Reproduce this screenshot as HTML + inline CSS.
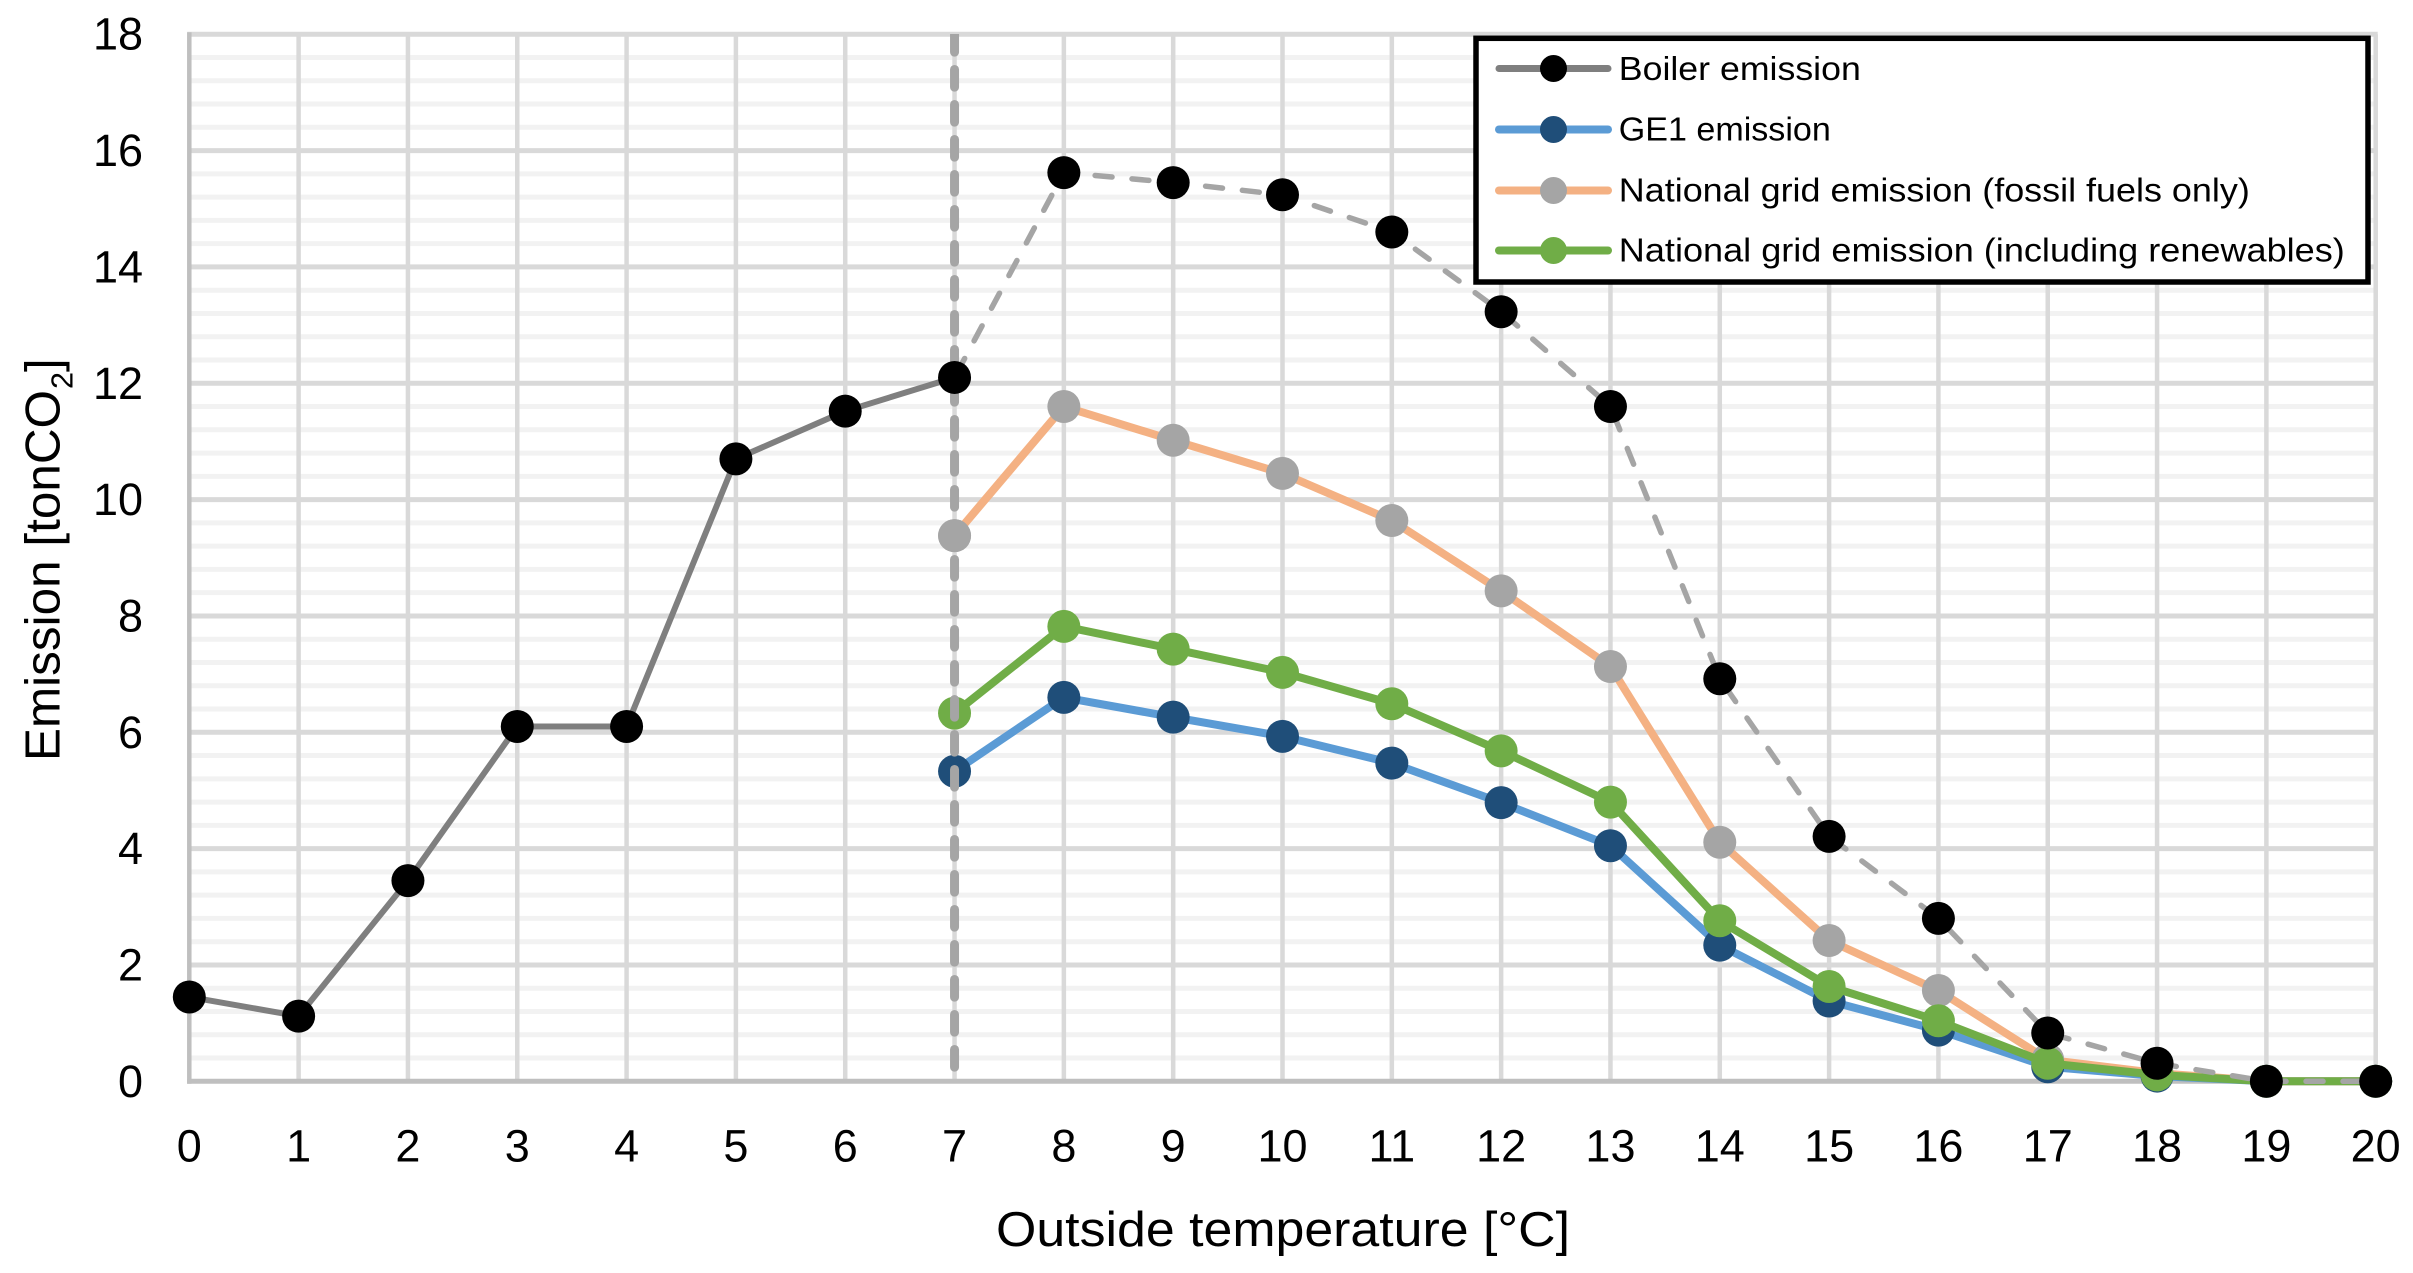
<!DOCTYPE html>
<html lang="en">
<head>
<meta charset="utf-8">
<title>Emission vs outside temperature</title>
<style>
html,body{margin:0;padding:0;background:#fff;}
svg{display:block;font-family:"Liberation Sans",sans-serif;}
</style>
</head>
<body>
<svg id="chart" width="2413" height="1273" viewBox="0 0 2413 1273" xmlns="http://www.w3.org/2000/svg">
  <defs><clipPath id="plot-clip"><rect x="150" y="34" width="2263" height="1100"/></clipPath></defs>
  <rect x="0" y="0" width="2413" height="1273" fill="#ffffff"/>
  <g id="grid"></g>
  <g id="ticks"></g>
  <g id="marks-free"></g>

  <text x="996" y="1246" font-size="49" textLength="574" lengthAdjust="spacingAndGlyphs">Outside temperature [°C]</text>
  <g transform="translate(59.3,761) rotate(-90)">
    <text x="0" y="0" font-size="49" textLength="371" lengthAdjust="spacingAndGlyphs">Emission [tonCO</text>
    <text x="372" y="13.4" font-size="31" textLength="17" lengthAdjust="spacingAndGlyphs">2</text>
    <text x="389" y="0" font-size="49">]</text>
  </g>

  <g id="legend">
    <rect x="1476" y="38.3" width="892" height="243.7" fill="#ffffff" stroke="#000000" stroke-width="5.5"/>
    <g>
      <line x1="1499" y1="68.5" x2="1608" y2="68.5" stroke="#7f7f7f" stroke-width="7" stroke-linecap="round"/>
      <circle cx="1553.5" cy="68.5" r="13.5" fill="#000000"/>
      <text x="1618.8" y="80" font-size="33" textLength="242" lengthAdjust="spacingAndGlyphs">Boiler emission</text>
    </g>
    <g>
      <line x1="1499" y1="129.5" x2="1608" y2="129.5" stroke="#5b9bd5" stroke-width="8" stroke-linecap="round"/>
      <circle cx="1553.5" cy="129.5" r="13.5" fill="#1f4e79"/>
      <text x="1618.8" y="140.7" font-size="33" textLength="212" lengthAdjust="spacingAndGlyphs">GE1 emission</text>
    </g>
    <g>
      <line x1="1499" y1="190.5" x2="1608" y2="190.5" stroke="#f4b183" stroke-width="8" stroke-linecap="round"/>
      <circle cx="1553.5" cy="190.5" r="13.5" fill="#a5a5a5"/>
      <text x="1618.8" y="201.7" font-size="33" textLength="631" lengthAdjust="spacingAndGlyphs">National grid emission (fossil fuels only)</text>
    </g>
    <g>
      <line x1="1499" y1="250.5" x2="1608" y2="250.5" stroke="#70ad47" stroke-width="8" stroke-linecap="round"/>
      <circle cx="1553.5" cy="250.5" r="13.5" fill="#70ad47"/>
      <text x="1618.8" y="261.7" font-size="33" textLength="726" lengthAdjust="spacingAndGlyphs">National grid emission (including renewables)</text>
    </g>
  </g>
</svg>
<script>
var categories = [0,1,2,3,4,5,6,7,8,9,10,11,12,13,14,15,16,17,18,19,20];
var yTickLabels = [0,2,4,6,8,10,12,14,16,18];
var boilerEmission = [1.45,1.12,3.45,6.1,6.1,10.7,11.52,12.1,15.62,15.45,15.24,14.6,13.23,11.6,6.92,4.21,2.8,0.83,0.31,0,0];
var ge1Emission = [null,null,null,null,null,null,null,5.33,6.6,6.26,5.93,5.47,4.79,4.05,2.34,1.38,0.88,0.25,0.09,0,0];
var gridFossilEmission = [null,null,null,null,null,null,null,9.38,11.6,11.02,10.45,9.64,8.43,7.13,4.11,2.42,1.56,0.37,0.14,0,0];
var gridRenewablesEmission = [null,null,null,null,null,null,null,6.33,7.82,7.43,7.03,6.49,5.68,4.8,2.76,1.63,1.04,0.31,0.11,0,0];
var cutoffTemperature = 7;
var yMax = 18;
var yMinorStep = 0.4;

var SVG_NS = 'http://www.w3.org/2000/svg';
function xScale(t){ return 189.3 + t * 109.32; }
function yScale(v){ return 1081.3 - v * 58.17; }
function make(tag, attrs, parent){
  var node = document.createElementNS(SVG_NS, tag);
  for (var k in attrs) node.setAttribute(k, attrs[k]);
  parent.appendChild(node);
  return node;
}
var gridG = document.getElementById('grid');
var ticksG = document.getElementById('ticks');
var freeG = document.getElementById('marks-free');
var plotLeft = xScale(categories[0]);
var plotRight = xScale(categories[categories.length - 1]);

// minor horizontal gridlines
var minorCount = Math.round(yMax / yMinorStep);
for (var m = 0; m <= minorCount; m++) {
  var mv = m * yMinorStep;
  if (m % 5 === 0) continue;
  var minor = make('line', {x1: plotLeft, x2: plotRight - 2, y1: yScale(mv), y2: yScale(mv), stroke: '#f2f2f2', 'stroke-width': 5}, gridG);
  
  
}
// major horizontal gridlines
yTickLabels.forEach(function(v){
  if (v === 0) return;
  var major = make('line', {x1: plotLeft - 2, x2: plotRight + 2, y1: yScale(v), y2: yScale(v), stroke: '#d9d9d9', 'stroke-width': 5}, gridG);
  
  
});
// vertical gridlines
categories.forEach(function(c){
  if (c === 0) return;
  var vertical = make('line', {x1: xScale(c), x2: xScale(c), y1: yScale(yMax), y2: yScale(0), stroke: '#d9d9d9', 'stroke-width': 4.5}, gridG);
  
  
});
// axis lines
var yAxisLine = make('line', {x1: plotLeft, x2: plotLeft, y1: yScale(yMax) - 2, y2: yScale(0) + 2.5, stroke: '#bfbfbf', 'stroke-width': 4.5}, gridG);


var xAxisLine = make('line', {x1: plotLeft - 2, x2: plotRight, y1: yScale(0), y2: yScale(0), stroke: '#bfbfbf', 'stroke-width': 5}, gridG);



// tick labels
yTickLabels.forEach(function(v){
  var label = make('text', {x: 143, y: yScale(v) + 15.5, 'font-size': 45, 'text-anchor': 'end', fill: '#000'}, ticksG);
  label.textContent = String(v);
  
  
});
categories.forEach(function(c){
  var label = make('text', {x: xScale(c), y: 1161.7, 'font-size': 45, 'text-anchor': 'middle', fill: '#000'}, ticksG);
  label.textContent = String(c);
  
  
});

function pathFrom(values, from, to){
  var pts = [];
  for (var i = from; i <= to; i++) {
    if (values[i] === null) continue;
    pts.push(xScale(categories[i]) + ',' + yScale(values[i]));
  }
  return pts.join(' ');
}
function drawLine(parent, values, from, to, color, width, dash, offset){
  var attrs = {points: pathFrom(values, from, to), fill: 'none', stroke: color, 'stroke-width': width, 'stroke-linejoin': 'round', 'stroke-linecap': 'round'};
  if (dash) { attrs['stroke-dasharray'] = dash; attrs['stroke-dashoffset'] = offset; }
  return make('polyline', attrs, parent);
}
function drawPoint(parent, values, i, color){
  return make('circle', {cx: xScale(categories[i]), cy: yScale(values[i]), r: 16.5, fill: color}, parent);
}
function drawSeries(values, lineColor, markerColor, lineName, markerName){
  var line = drawLine(freeG, values, 0, values.length - 1, lineColor, 8);
  
  
  values.forEach(function(v, i){
    if (v === null) return;
    var dot = drawPoint(freeG, values, i, markerColor);
    
    
  });
}

drawSeries(ge1Emission, '#5b9bd5', '#1f4e79', 'ge1-line', 'ge1-point');
drawSeries(gridFossilEmission, '#f4b183', '#a5a5a5', 'grid-fossil-line', 'grid-fossil-point');
drawSeries(gridRenewablesEmission, '#70ad47', '#70ad47', 'grid-renewables-line', 'grid-renewables-point');

// vertical cut-off line (clipped at the plot top)
var cutoffIdx = categories.indexOf(cutoffTemperature);
var cutoff = make('line', {x1: xScale(cutoffTemperature), x2: xScale(cutoffTemperature), y1: yScale(yMax) + 0.2, y2: yScale(0) - 10, stroke: '#a5a5a5', 'stroke-width': 9, 'stroke-linecap': 'round', 'stroke-dasharray': '17.7 17.3', 'clip-path': 'url(#plot-clip)'}, freeG);



var fossilOverlay = drawPoint(freeG, gridFossilEmission, cutoffIdx, '#a5a5a5');



// boiler: solid up to the cut-off, dashed beyond
var boilerSolid = drawLine(freeG, boilerEmission, 0, cutoffIdx, '#7f7f7f', 6);


var boilerDashed = drawLine(freeG, boilerEmission, cutoffIdx, categories.length - 1, '#a5a5a5', 5.5, '17 20', 32.5);


boilerEmission.forEach(function(v, i){
  var dot = drawPoint(freeG, boilerEmission, i, '#000000');
  
  
});
</script>
</body>
</html>
